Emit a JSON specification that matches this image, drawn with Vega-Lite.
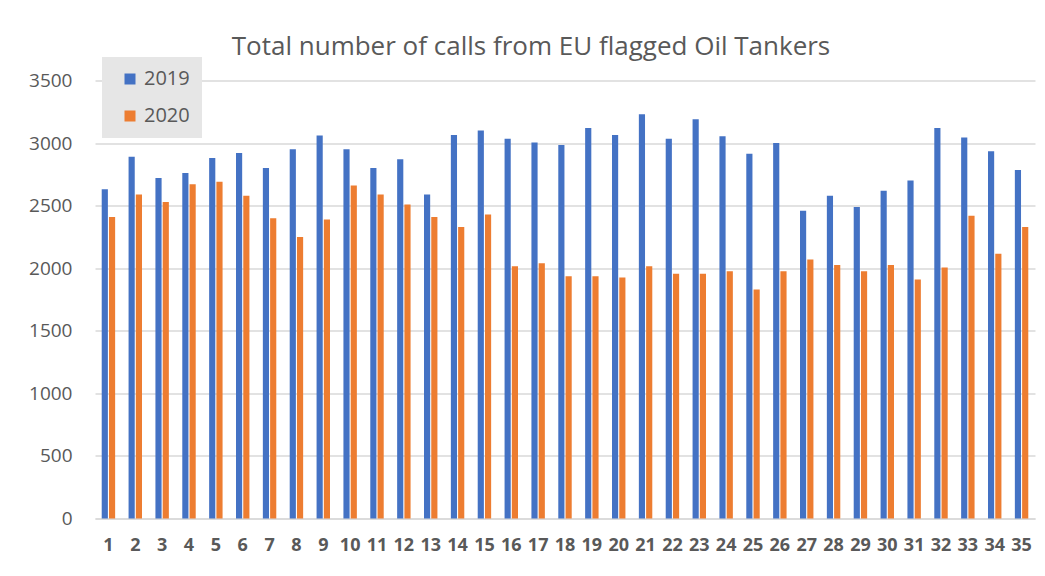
{
  "$schema": "https://vega.github.io/schema/vega-lite/v6.json",
  "autosize": "none",
  "width": 940,
  "height": 438,
  "padding": {"left": 95, "top": 80.5, "right": 10, "bottom": 57.5},
  "background": "white",
  "title": {
    "text": "Total number of calls from EU flagged Oil Tankers",
    "font": "Open Sans",
    "fontSize": 26,
    "fontWeight": "normal",
    "color": "#595959",
    "anchor": "middle",
    "baseline": "alphabetic",
    "offset": 24,
    "dx": -34,
    "dy": 48
  },
  "data": {
    "values": [
      {"week": 1, "year": "2019", "calls": 2630}, {"week": 1, "year": "2020", "calls": 2410},
      {"week": 2, "year": "2019", "calls": 2890}, {"week": 2, "year": "2020", "calls": 2590},
      {"week": 3, "year": "2019", "calls": 2720}, {"week": 3, "year": "2020", "calls": 2530},
      {"week": 4, "year": "2019", "calls": 2760}, {"week": 4, "year": "2020", "calls": 2670},
      {"week": 5, "year": "2019", "calls": 2880}, {"week": 5, "year": "2020", "calls": 2690},
      {"week": 6, "year": "2019", "calls": 2920}, {"week": 6, "year": "2020", "calls": 2580},
      {"week": 7, "year": "2019", "calls": 2800}, {"week": 7, "year": "2020", "calls": 2400},
      {"week": 8, "year": "2019", "calls": 2950}, {"week": 8, "year": "2020", "calls": 2250},
      {"week": 9, "year": "2019", "calls": 3060}, {"week": 9, "year": "2020", "calls": 2390},
      {"week": 10, "year": "2019", "calls": 2950}, {"week": 10, "year": "2020", "calls": 2660},
      {"week": 11, "year": "2019", "calls": 2800}, {"week": 11, "year": "2020", "calls": 2590},
      {"week": 12, "year": "2019", "calls": 2870}, {"week": 12, "year": "2020", "calls": 2510},
      {"week": 13, "year": "2019", "calls": 2590}, {"week": 13, "year": "2020", "calls": 2410},
      {"week": 14, "year": "2019", "calls": 3065}, {"week": 14, "year": "2020", "calls": 2330},
      {"week": 15, "year": "2019", "calls": 3100}, {"week": 15, "year": "2020", "calls": 2430},
      {"week": 16, "year": "2019", "calls": 3035}, {"week": 16, "year": "2020", "calls": 2015},
      {"week": 17, "year": "2019", "calls": 3005}, {"week": 17, "year": "2020", "calls": 2040},
      {"week": 18, "year": "2019", "calls": 2985}, {"week": 18, "year": "2020", "calls": 1935},
      {"week": 19, "year": "2019", "calls": 3120}, {"week": 19, "year": "2020", "calls": 1935},
      {"week": 20, "year": "2019", "calls": 3065}, {"week": 20, "year": "2020", "calls": 1925},
      {"week": 21, "year": "2019", "calls": 3230}, {"week": 21, "year": "2020", "calls": 2015},
      {"week": 22, "year": "2019", "calls": 3035}, {"week": 22, "year": "2020", "calls": 1955},
      {"week": 23, "year": "2019", "calls": 3190}, {"week": 23, "year": "2020", "calls": 1955},
      {"week": 24, "year": "2019", "calls": 3055}, {"week": 24, "year": "2020", "calls": 1975},
      {"week": 25, "year": "2019", "calls": 2915}, {"week": 25, "year": "2020", "calls": 1830},
      {"week": 26, "year": "2019", "calls": 3000}, {"week": 26, "year": "2020", "calls": 1975},
      {"week": 27, "year": "2019", "calls": 2460}, {"week": 27, "year": "2020", "calls": 2070},
      {"week": 28, "year": "2019", "calls": 2580}, {"week": 28, "year": "2020", "calls": 2025},
      {"week": 29, "year": "2019", "calls": 2490}, {"week": 29, "year": "2020", "calls": 1975},
      {"week": 30, "year": "2019", "calls": 2620}, {"week": 30, "year": "2020", "calls": 2025},
      {"week": 31, "year": "2019", "calls": 2700}, {"week": 31, "year": "2020", "calls": 1910},
      {"week": 32, "year": "2019", "calls": 3120}, {"week": 32, "year": "2020", "calls": 2005},
      {"week": 33, "year": "2019", "calls": 3045}, {"week": 33, "year": "2020", "calls": 2420},
      {"week": 34, "year": "2019", "calls": 2935}, {"week": 34, "year": "2020", "calls": 2115},
      {"week": 35, "year": "2019", "calls": 2785}, {"week": 35, "year": "2020", "calls": 2330}
    ]
  },
  "mark": {"type": "bar"},
  "encoding": {
    "x": {
      "field": "week",
      "type": "ordinal",
      "scale": {"paddingInner": 0.5, "paddingOuter": 0.25},
      "axis": {
        "title": null,
        "labelAngle": 0,
        "ticks": false,
        "domain": true,
        "domainColor": "#d9d9d9",
        "domainWidth": 1.5,
        "labelFont": "Open Sans",
        "labelFontSize": 18,
        "labelFontWeight": "bold",
        "labelColor": "#595959",
        "labelPadding": 18,
        "grid": false
      }
    },
    "xOffset": {
      "field": "year",
      "type": "nominal",
      "scale": {"paddingInner": 0.15}
    },
    "y": {
      "field": "calls",
      "type": "quantitative",
      "scale": {"domain": [0, 3500]},
      "axis": {
        "title": null,
        "values": [0, 500, 1000, 1500, 2000, 2500, 3000, 3500],
        "format": "d",
        "ticks": false,
        "domain": false,
        "grid": true,
        "gridColor": "#d9d9d9",
        "gridWidth": 1.5,
        "labelFont": "Open Sans",
        "labelFontSize": 19,
        "labelColor": "#595959",
        "labelPadding": 23
      }
    },
    "color": {
      "field": "year",
      "type": "nominal",
      "scale": {"domain": ["2019", "2020"], "range": ["#4472C4", "#ED7D31"]},
      "legend": {
        "title": null,
        "orient": "none",
        "legendX": 7,
        "legendY": -23.5,
        "fillColor": "#e6e6e6",
        "padding": 12,
        "symbolType": "square",
        "symbolSize": 121,
        "symbolStrokeWidth": 0,
        "symbolOffset": 6,
        "labelOffset": 4,
        "rowPadding": 17,
        "labelFont": "Open Sans",
        "labelFontSize": 20,
        "labelColor": "#595959"
      }
    }
  },
  "config": {"view": {"stroke": null}}
}
